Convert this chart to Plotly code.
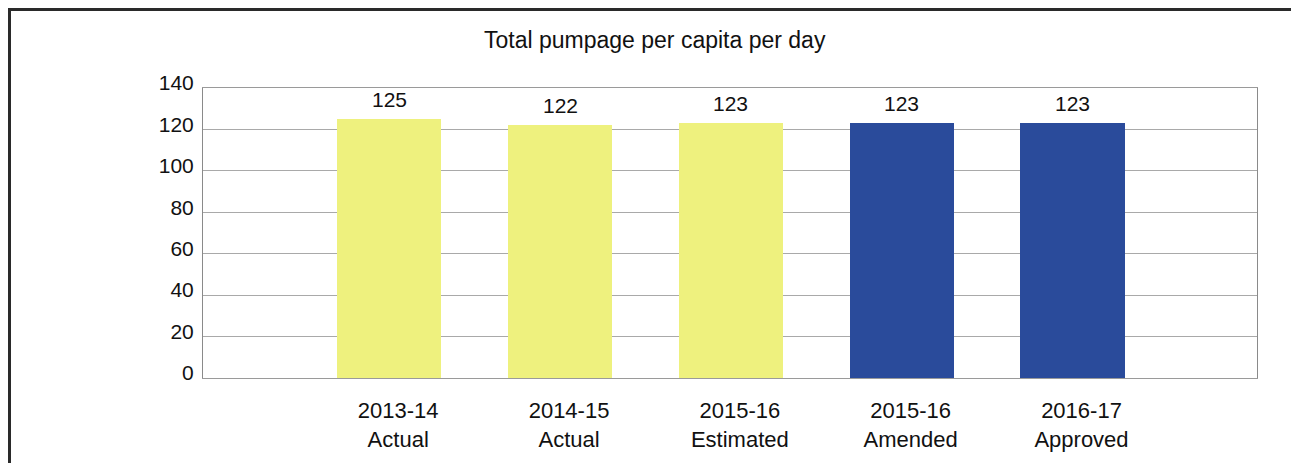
import plotly.graph_objects as go

# ---- data ----
categories = ["2013-14<br>Actual", "2014-15<br>Actual", "2015-16<br>Estimated",
              "2015-16<br>Amended", "2016-17<br>Approved"]
values = [125, 122, 123, 123, 123]
y_ticks = [0, 20, 40, 60, 80, 100, 120, 140]
title_text = "Total pumpage per capita per day"

# ---- style ----
YELLOW = "#eef17e"
BLUE = "#2a4b9b"
bar_colors = [YELLOW, YELLOW, YELLOW, BLUE, BLUE]
FONT = "Liberation Sans, Arial, sans-serif"

# page offset (body margin) = 8px
OFF = 8
PL, PT, PW, PH = 203, 88, 1054, 290   # plot area in page pixels


def px(p):
    return (p - PL) / PW


def py(q):
    return (PT + PH - q) / PH


x_idx = list(range(len(categories)))

fig = go.Figure()
fig.add_trace(go.Bar(
    x=x_idx, y=values, width=0.61,
    marker=dict(color=bar_colors, line=dict(width=0)),
    hoverinfo="skip",
))

# value labels above bars
for xi, v in zip(x_idx, values):
    fig.add_annotation(x=xi, y=v, text=str(v), showarrow=False,
                       yanchor="bottom", yshift=6,
                       font=dict(family=FONT, size=21, color="#111"))

# title
fig.add_annotation(xref="paper", yref="paper", x=px(655), y=py(40),
                   text=title_text, showarrow=False, xanchor="center", yanchor="middle",
                   font=dict(family=FONT, size=23, color="#111"))

# outer frame
fig.add_shape(type="rect", xref="paper", yref="paper",
              x0=px(OFF + 1.5), x1=px(1295),
              y0=-0.6, y1=py(OFF + 1.5),
              line=dict(color="#2a2a2a", width=3), layer="below")

fig.update_layout(
    width=1299 - OFF, height=463 - OFF,
    margin=dict(l=PL - OFF, r=(1299 - OFF) - (PL - OFF) - PW, t=PT - OFF,
                b=(463 - OFF) - (PT - OFF) - PH),
    paper_bgcolor="white", plot_bgcolor="white",
    showlegend=False,
    font=dict(family=FONT, color="#111"),
    bargap=0,
)
fig.update_xaxes(
    range=[-1.09, 5.08],
    tickmode="array", tickvals=x_idx, ticktext=categories,
    tickfont=dict(family=FONT, size=22, color="#111"),
    ticks="outside", ticklen=13, tickcolor="rgba(0,0,0,0)",
    ticklabelshift=9,
    showline=True, linecolor="#9a9a9a", linewidth=1, mirror=True,
    showgrid=False, zeroline=False, fixedrange=True,
)
fig.update_yaxes(
    range=[0, 140],
    tickmode="array", tickvals=y_ticks,
    tickfont=dict(family=FONT, size=21, color="#111"),
    ticks="outside", ticklen=4, tickcolor="rgba(0,0,0,0)",
    ticklabelshift=-5,
    showline=True, linecolor="#8a8a8a", linewidth=1, mirror=True,
    showgrid=True, gridcolor="#a9a9a9", gridwidth=1,
    zeroline=False, fixedrange=True,
)

fig.write_html("out.html")
